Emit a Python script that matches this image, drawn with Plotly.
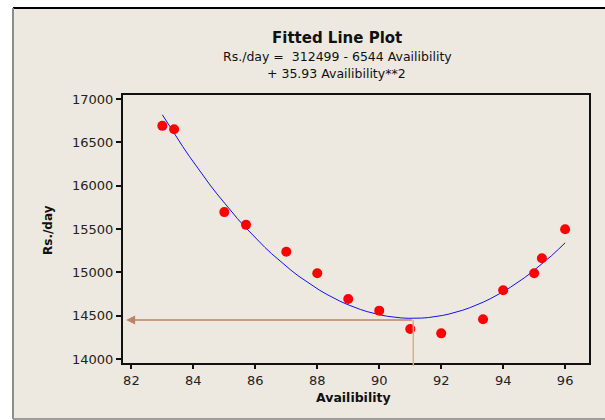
import numpy as np
import plotly.graph_objects as go

# ---- data ----
availability = [83.0, 83.38, 85.0, 85.7, 87.0, 88.0, 89.0, 90.0, 91.0, 92.0, 93.35, 94.0, 95.0, 95.25, 96.0]
rs_per_day = [16690, 16650, 15695, 15548, 15237, 14990, 14692, 14558, 14346, 14296, 14458, 14793, 14990, 15162, 15497]
x_ticks = [82, 84, 86, 88, 90, 92, 94, 96]
y_ticks = [14000, 14500, 15000, 15500, 16000, 16500, 17000]
target_x = 91.1
target_y = 14450

# least-squares quadratic fit of the data (the fitted line)
coef = np.polyfit(availability, rs_per_day, 2)
fit_x = np.linspace(min(availability), max(availability), 60)
fit_y = np.polyval(coef, fit_x)

W, H = 605, 420
L, R, T, B = 123, 16, 95, 57
PW, PH = W - L - R, H - T - B
Y0, Y1 = 13954, 17046


def px(xp):
    return (xp - L) / PW


def py(yp):
    return (H - B - yp) / PH


FONT = "DejaVu Sans"
BG = "#EDE9E0"

fig = go.Figure()
fig.add_trace(go.Scatter(x=fit_x, y=fit_y, mode="lines",
                         line=dict(color="#1010F0", width=1), hoverinfo="skip"))
fig.add_trace(go.Scatter(x=availability, y=rs_per_day, mode="markers",
                         marker=dict(color="#FF0000", size=10)))

# frame behind everything
fig.add_shape(type="rect", xref="paper", yref="paper",
              x0=px(13), x1=px(640), y0=py(418), y1=py(8),
              fillcolor=BG, line=dict(width=0), layer="below")
fig.add_shape(type="line", xref="paper", yref="paper",
              x0=px(13), x1=px(640), y0=py(8), y1=py(8),
              line=dict(color="#000000", width=2), layer="below")
fig.add_shape(type="line", xref="paper", yref="paper",
              x0=px(13), x1=px(13), y0=py(8), y1=py(419),
              line=dict(color="#8C8C8C", width=2), layer="below")
fig.add_shape(type="line", xref="paper", yref="paper",
              x0=px(13), x1=px(640), y0=py(419), y1=py(419),
              line=dict(color="#9A9A9A", width=2), layer="below")

# reference lines
fig.add_shape(type="line", xref="x", yref="paper",
              x0=target_x, x1=target_x, y0=py(366), y1=(target_y - Y0) / (Y1 - Y0),
              line=dict(color="#D8AE90", width=1.5))
fig.add_annotation(x=81.83, y=target_y, ax=target_x, ay=target_y,
                   xref="x", yref="y", axref="x", ayref="y",
                   showarrow=True, arrowhead=2, arrowsize=1.2, arrowwidth=1.5,
                   arrowcolor="#BC8462", text="")

# titles
def label(text, x, y, size, angle=0):
    fig.add_annotation(text=text, xref="paper", yref="paper",
                       x=px(x), y=py(y), xanchor="center", yanchor="middle",
                       showarrow=False, textangle=angle,
                       font=dict(family=FONT, size=size, color="#111111"))


label("<b>Fitted Line Plot</b>", 337, 38, 15)
label("Rs./day =  312499 - 6544 Availibility", 337, 56, 12.5)
label("+ 35.93 Availibility**2", 336, 73, 12.5)
label("<b>Rs./day</b>", 48, 230, 12, angle=-90)
label("<b>Availibility</b>", 353, 397, 12.5)

fig.update_layout(
    width=W, height=H,
    margin=dict(l=L, r=R, t=T, b=B),
    paper_bgcolor="#FFFFFF", plot_bgcolor="#FFFFFF",
    showlegend=False,
    font=dict(family=FONT, size=13, color="#222222"),
)
fig.update_xaxes(range=[81.73, 96.77], tickvals=x_ticks, ticks="outside", ticklen=4,
                 tickwidth=2, tickcolor="#111111", showline=True, linecolor="#111111",
                 linewidth=2, mirror=True, showgrid=False, zeroline=False,
                 tickfont=dict(family=FONT, size=13, color="#222222"))
fig.update_yaxes(range=[Y0, Y1], tickvals=y_ticks, tickformat="d", ticks="outside", ticklen=5,
                 tickwidth=2, tickcolor="#111111", showline=True, linecolor="#111111",
                 linewidth=2, mirror=True, showgrid=False, zeroline=False,
                 tickfont=dict(family=FONT, size=13, color="#222222"))

fig.write_html("out.html", config={"displayModeBar": False},
               post_script="document.body.style.margin='0';")
